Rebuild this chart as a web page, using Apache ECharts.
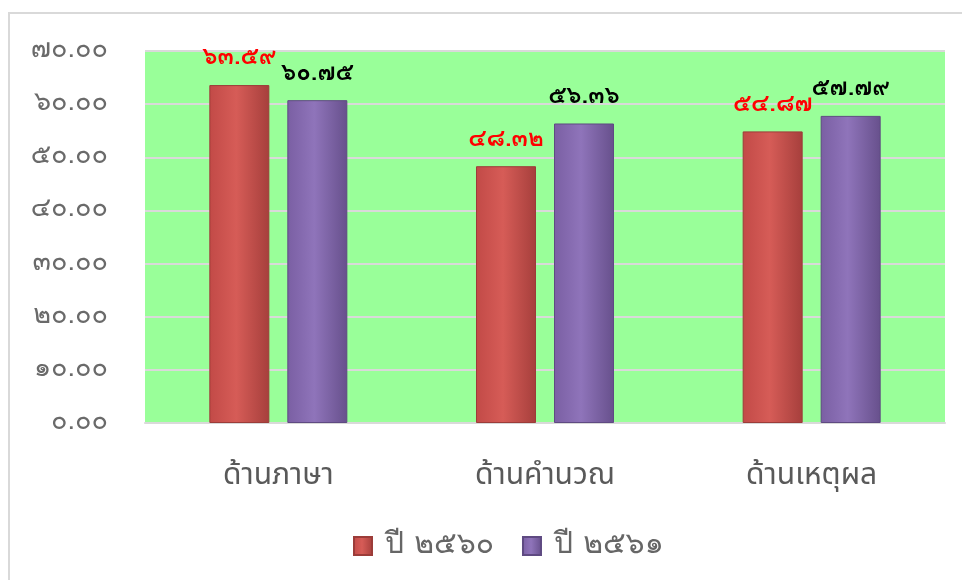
<!DOCTYPE html>
<html>
<head>
<meta charset="utf-8">
<style>
    html, body { margin: 0; padding: 0; background: #fff; }
    #chart { width: 962px; height: 580px; }
</style>
<script src="https://cdn.jsdelivr.net/npm/echarts@6/dist/echarts.min.js"></script>
</head>
<body>
<div id="chart"></div>
<script>
    const categories = ['ด้านภาษา', 'ด้านคำนวณ', 'ด้านเหตุผล']
    const seriesNames = ['ปี ๒๕๖๐', 'ปี ๒๕๖๑']
    const values2560 = [63.59, 48.32, 54.87]
    const values2561 = [60.75, 56.36, 57.79]
    const yTicks = { min: 0, max: 70, interval: 10 }

    const thaiDigits = ['๐', '๑', '๒', '๓', '๔', '๕', '๖', '๗', '๘', '๙']
    const toThai = (n) => n.toFixed(2).replace(/[0-9]/g, d => thaiDigits[+d])

    // ตัวเลขไทยแบบมีหัว / ตัวอักษรแบบไม่มีหัว
    const loopFont = "'Loma', 'Garuda', 'Laksaman', 'Noto Sans Thai', sans-serif"
    const plainFont = "'Noto Sans Thai', 'Noto Sans', 'DejaVu Sans', sans-serif"

    const barGradient = (left, mid, right) => new echarts.graphic.LinearGradient(0, 0, 1, 0, [
        { offset: 0, color: left },
        { offset: 0.45, color: mid },
        { offset: 1, color: right }
    ])

    const chart = echarts.init(document.getElementById('chart'))

    const option = {
        backgroundColor: '#fff',
        textStyle: { fontFamily: plainFont },
        graphic: [{
            type: 'rect',
            silent: true,
            shape: { x: 9, y: 13, width: 1000, height: 620 },
            style: { fill: 'none', stroke: '#d9d9d9', lineWidth: 2 }
        }],
        legend: {
            data: seriesNames,
            bottom: 14,
            left: 348,
            itemWidth: 18,
            itemHeight: 18,
            itemGap: 28,
            icon: 'rect',
            textStyle: { fontSize: 30, color: '#666', fontFamily: loopFont, padding: [0, 0, 0, 8] }
        },
        grid: {
            left: 145,
            right: 17,
            top: 51,
            bottom: 157,
            show: true,
            backgroundColor: '#99ff99',
            borderWidth: 0
        },
        xAxis: {
            type: 'category',
            data: categories,
            axisLine: { lineStyle: { color: '#d9d9d9', width: 2 } },
            axisTick: { show: false },
            axisLabel: { color: '#595959', fontSize: 30, margin: 40, fontFamily: plainFont }
        },
        yAxis: {
            type: 'value',
            min: yTicks.min,
            max: yTicks.max,
            interval: yTicks.interval,
            axisLine: { show: false },
            axisTick: { show: false },
            splitLine: { lineStyle: { color: '#d9d9d9', width: 2 } },
            axisLabel: {
                color: '#6a6a6a',
                fontSize: 27,
                margin: 37,
                fontFamily: loopFont,
                formatter: (v) => toThai(v)
            }
        },
        series: [
            {
                name: seriesNames[0],
                type: 'bar',
                data: values2560,
                barWidth: 60,
                barGap: '30%',
                itemStyle: {
                    color: barGradient('#c24a47', '#d65c57', '#a63f3c'),
                    borderColor: '#9c3c39',
                    borderWidth: 1
                },
                label: {
                    show: true,
                    position: 'top',
                    distance: 14,
                    color: '#ff0000',
                    fontSize: 24,
                    fontWeight: 'bold',
                    fontFamily: loopFont,
                    formatter: (p) => toThai(p.value)
                }
            },
            {
                name: seriesNames[1],
                type: 'bar',
                data: values2561,
                barWidth: 60,
                itemStyle: {
                    color: barGradient('#7a5fa3', '#8f74ba', '#67508c'),
                    borderColor: '#5f4a82',
                    borderWidth: 1
                },
                label: {
                    show: true,
                    position: 'top',
                    distance: 14,
                    color: '#000',
                    fontSize: 24,
                    fontWeight: 'bold',
                    fontFamily: loopFont,
                    formatter: (p) => toThai(p.value)
                }
            }
        ]
    }

    chart.setOption(option)
</script>
</body>
</html>
